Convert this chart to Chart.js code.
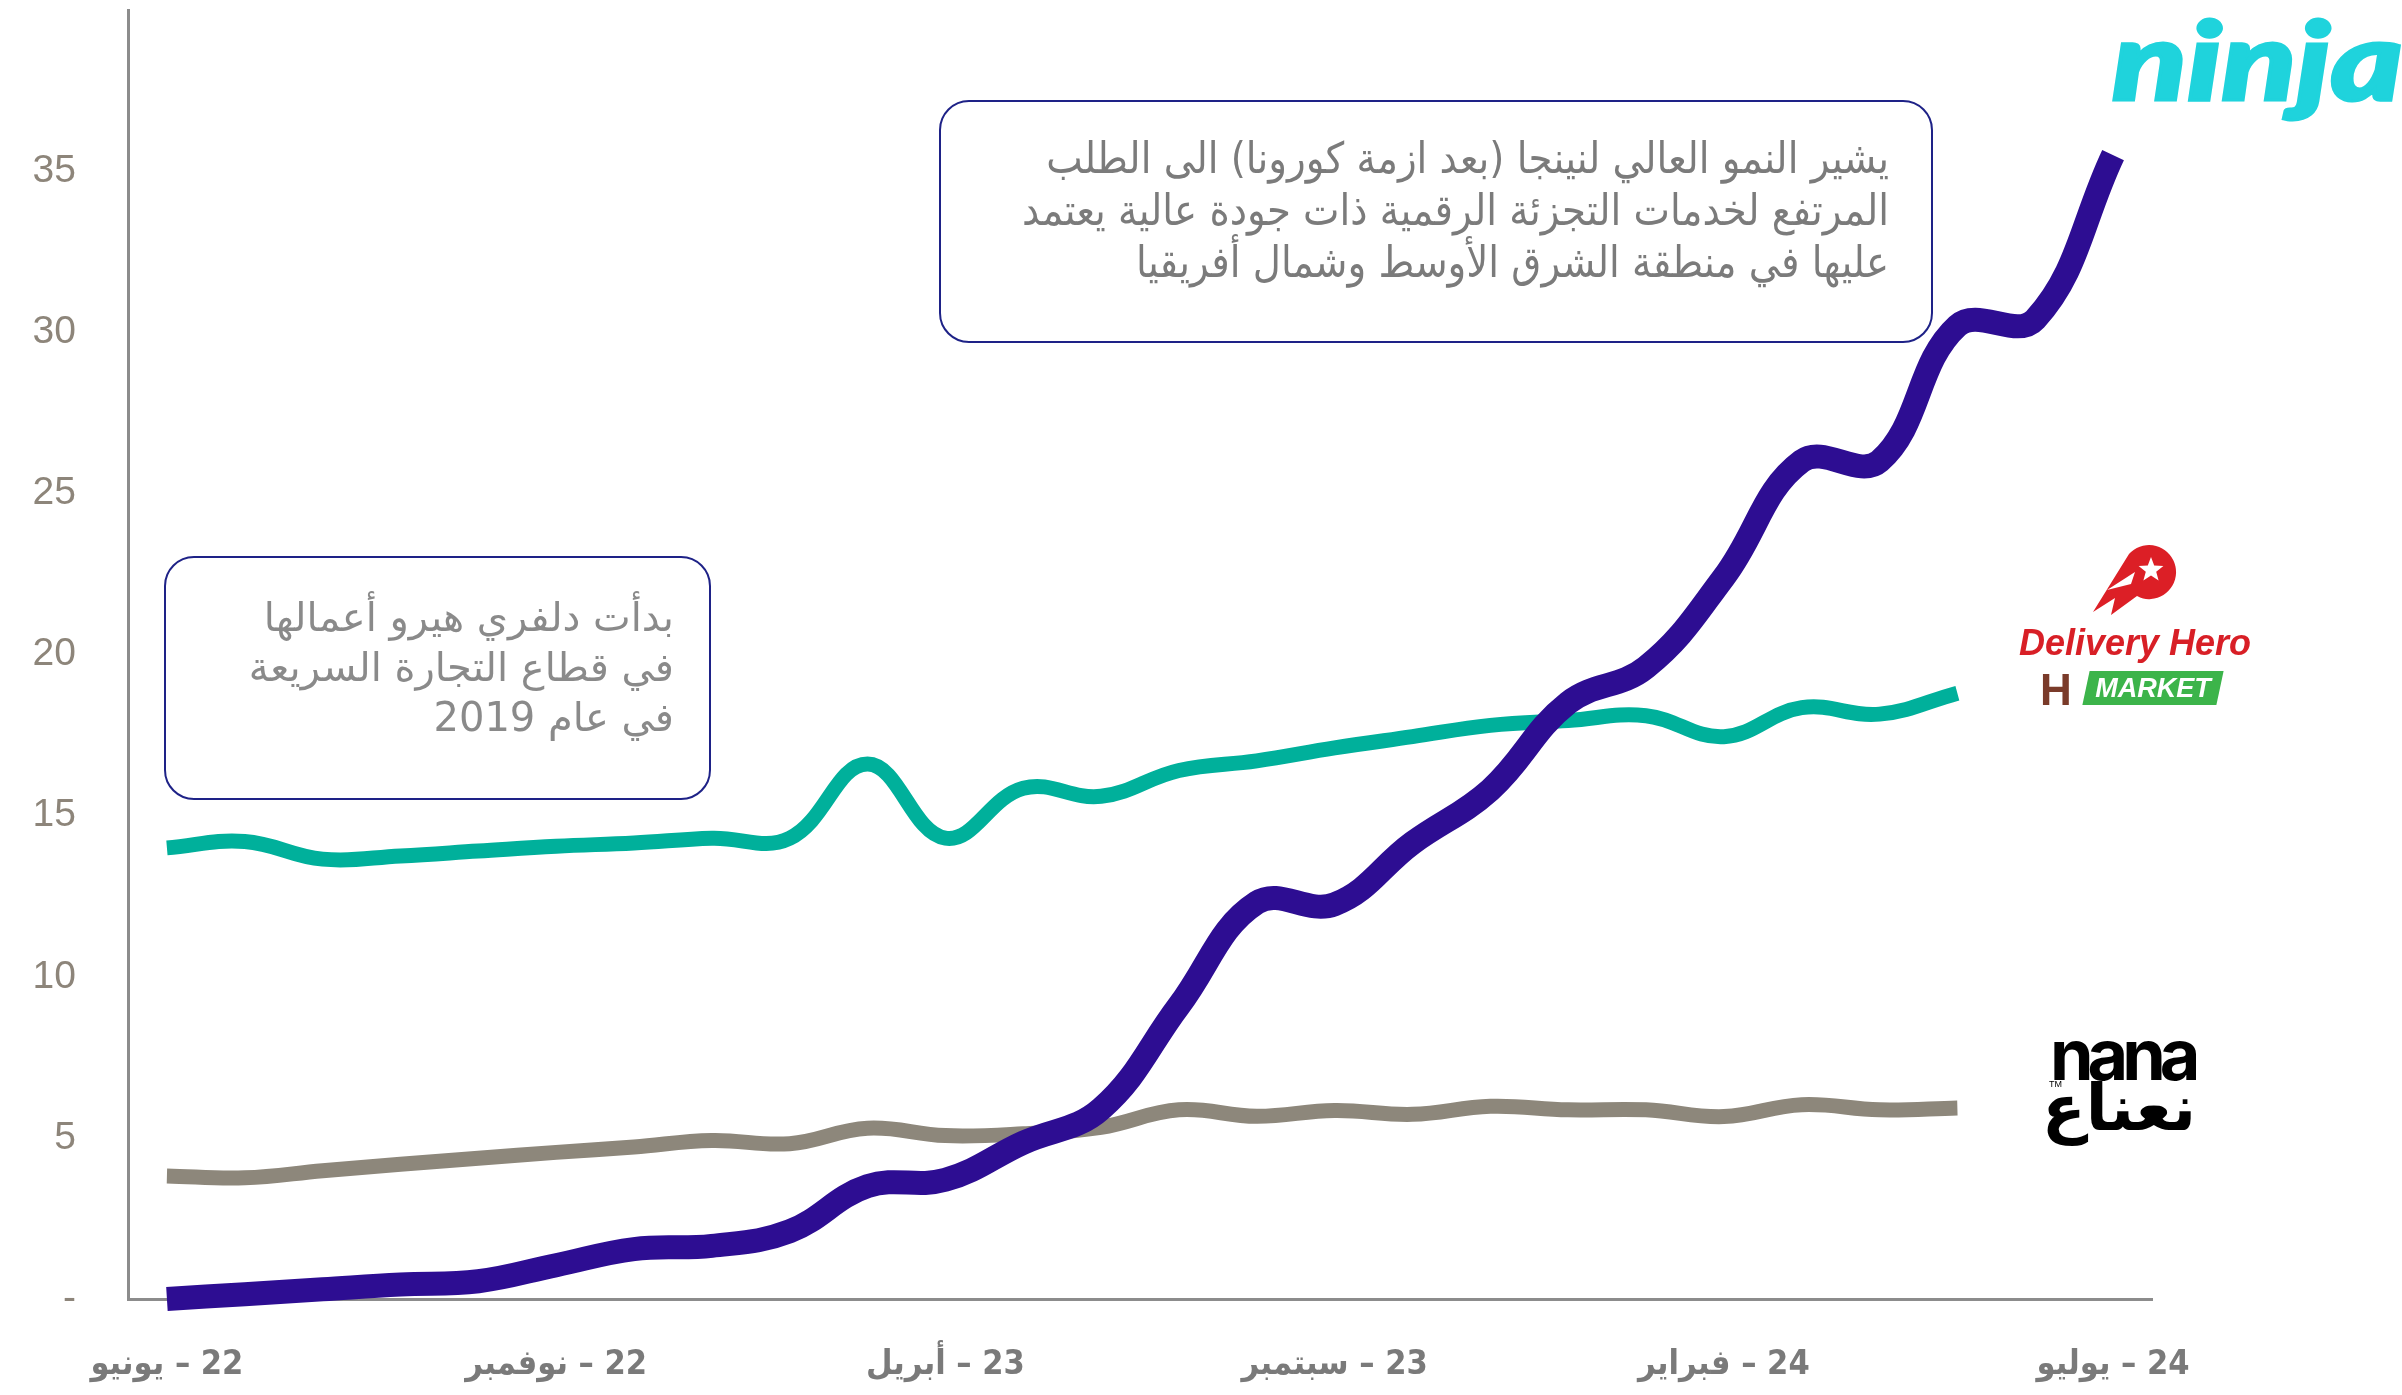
<!DOCTYPE html>
<html>
<head>
<meta charset="utf-8">
<script src="https://cdn.jsdelivr.net/npm/chart.js@4.4.1/dist/chart.umd.min.js"></script>
<style>
html,body{margin:0;padding:0;background:#fff;}
#wrap{position:relative;width:2402px;height:1395px;overflow:hidden;background:#fff;}
#c{position:absolute;left:0;top:0;}
.box{position:absolute;border:2.5px solid #1e2287;border-radius:30px;box-sizing:border-box;}
.note{position:absolute;direction:rtl;text-align:right;white-space:nowrap;}
.logo{position:absolute;white-space:nowrap;line-height:1;}
</style>
</head>
<body>
<div id="wrap">
<canvas id="c" width="2402" height="1395"></canvas>

<div class="box" style="left:164px;top:556px;width:547px;height:244px;"></div>
<div class="note" style="left:164px;width:510px;top:592px;font-family:'DejaVu Sans',sans-serif;font-size:40px;line-height:50px;color:#8a8a8a;">بدأت دلفري هيرو أعمالها<br>في قطاع التجارة السريعة<br>في عام 2019</div>

<div class="box" style="left:939px;top:100px;width:994px;height:243px;"></div>
<div class="note" style="left:939px;width:950px;top:132px;font-family:'DejaVu Sans Condensed','DejaVu Sans',sans-serif;font-size:43px;line-height:52px;color:#7b7b7b;">يشير النمو العالي لنينجا (بعد ازمة كورونا) الى الطلب<br>المرتفع لخدمات التجزئة الرقمية ذات جودة عالية يعتمد<br>عليها في منطقة الشرق الأوسط وشمال أفريقيا</div>

<!-- ninja logo -->
<div class="logo" style="left:2112px;top:4px;font-family:Lato,sans-serif;font-weight:900;font-style:italic;font-size:108px;color:#1fd3dc;transform:scaleX(1.27);transform-origin:left top;-webkit-text-stroke:3px #1fd3dc;">ninja</div>

<!-- Delivery Hero HMARKET logo -->
<svg style="position:absolute;left:2085px;top:540px;" width="100" height="78" viewBox="0 0 100 78">
  <path d="M44 14 L8 72 L30 58 L26 75 L52 56 Q60 60 66 59 A27 27 0 1 0 44 14 Z" fill="#dc1f26"/>
  <path d="M66 17 L69.2 25.5 L78.4 26 L71.2 31.7 L73.6 40.5 L66 35.5 L58.4 40.5 L60.8 31.7 L53.6 26 L62.8 25.5 Z" fill="#fff"/>
  <path d="M22 50 L50 32 L46 44 Z" fill="#fff"/>
</svg>
<div class="logo" style="left:2005px;top:625px;width:260px;text-align:center;font-family:'Liberation Sans',sans-serif;font-weight:bold;font-style:italic;font-size:36px;color:#d81f26;">Delivery Hero</div>
<div class="logo" style="left:2040px;top:668px;font-family:'Liberation Sans',sans-serif;font-weight:bold;font-size:44px;color:#7a3b2a;">H</div>
<div style="position:absolute;left:2086px;top:671px;width:134px;height:34px;background:#3cb44a;transform:skewX(-12deg);"></div>
<div class="logo" style="left:2086px;top:675px;width:134px;text-align:center;font-family:'Liberation Sans',sans-serif;font-weight:bold;font-style:italic;font-size:27px;color:#fff;">MARKET</div>

<!-- nana logo -->
<div class="logo" style="left:2050px;top:1020px;font-family:Inter,sans-serif;font-weight:700;font-size:70px;letter-spacing:-6px;color:#000;">nana</div>
<div class="logo" style="left:2049px;top:1080px;font-family:'Liberation Sans',sans-serif;font-size:9px;color:#000;">TM</div>
<div class="logo" style="left:2050px;top:1076px;width:146px;text-align:center;direction:rtl;font-family:'DejaVu Sans',sans-serif;font-weight:bold;font-size:64px;color:#000;">نعناع</div>
</div>

<script>
// ---- data ----
const monthNames = ['يونيو','يوليو','أغسطس','سبتمبر','أكتوبر','نوفمبر','ديسمبر','يناير','فبراير','مارس','أبريل','مايو',
                    'يونيو','يوليو','أغسطس','سبتمبر','أكتوبر','نوفمبر','ديسمبر','يناير','فبراير','مارس','أبريل','مايو',
                    'يونيو','يوليو'];
const yearSuffix = ['22','22','22','22','22','22','22','23','23','23','23','23',
                    '23','23','23','23','23','23','23','24','24','24','24','24',
                    '24','24'];
const tickEvery = 5;

const ninja = [0, 0.15, 0.3, 0.45, 0.55, 1.05, 1.55, 1.65, 2.1, 3.5, 3.7, 4.85, 5.9, 9.1, 12.3, 12.25, 14.15, 15.8, 18.5, 19.6, 22.4, 26.0, 26.0, 30.2, 30.4, 35.5];
const deliveryHero = [14.0, 14.2, 13.65, 13.75, 13.9, 14.05, 14.15, 14.3, 14.3, 16.6, 14.3, 15.85, 15.6, 16.4, 16.7, 17.1, 17.45, 17.8, 17.95, 18.1, 17.45, 18.35, 18.15, 18.8];
const nana = [3.82, 3.76, 3.98, 4.18, 4.37, 4.55, 4.72, 4.92, 4.82, 5.3, 5.07, 5.13, 5.33, 5.87, 5.67, 5.85, 5.73, 5.98, 5.87, 5.87, 5.66, 6.03, 5.87, 5.93];

const yMin = 0, yMax = 40, yStep = 5;
const zeroLabel = '-';

// ---- chart ----
const categories = monthNames.map((m, i) => m + '\u200E \u2013 ' + yearSuffix[i]);

new Chart(document.getElementById('c').getContext('2d'), {
  type: 'line',
  data: {
    labels: categories,
    datasets: [
      { label: 'ninja', data: ninja, borderColor: '#2d0d92', borderWidth: 24 },
      { label: 'Delivery Hero HMARKET', data: deliveryHero, borderColor: '#00b09b', borderWidth: 15 },
      { label: 'nana', data: nana, borderColor: '#8d877b', borderWidth: 15 }
    ]
  },
  options: {
    responsive: false,
    devicePixelRatio: 1,
    animation: false,
    layout: { autoPadding: false, padding: { left: 0, right: 250, top: 10, bottom: 0 } },
    plugins: { legend: { display: false }, tooltip: { enabled: false } },
    elements: {
      point: { radius: 0, hoverRadius: 0 },
      line: { tension: 0.4, borderCapStyle: 'butt', borderJoinStyle: 'round', fill: false }
    },
    datasets: { line: { clip: false } },
    scales: {
      x: {
        type: 'category',
        offset: true,
        grid: { display: false, drawTicks: false },
        border: { display: true, color: '#8c8c8c', width: 3 },
        ticks: {
          autoSkip: false, maxRotation: 0, minRotation: 0, padding: 46,
          color: '#7a7a7a',
          font: { family: "'DejaVu Sans Condensed','DejaVu Sans',sans-serif", size: 34, weight: 'bold' },
          callback: function (v, i) { return i % tickEvery === 0 ? this.getLabelForValue(v) : null; }
        },
        afterFit: function (s) { s.height = 96; s.paddingLeft = 0; s.paddingRight = 0; }
      },
      y: {
        min: yMin, max: yMax,
        grid: { display: false, drawTicks: false },
        border: { display: true, color: '#8c8c8c', width: 3 },
        ticks: {
          stepSize: yStep, padding: 52,
          color: '#8d857a',
          font: { family: "'Liberation Sans',Arial,sans-serif", size: 39 },
          callback: function (v) { if (v === yMax) return null; return v === 0 ? zeroLabel : String(v); }
        },
        afterFit: function (s) { s.width = 128; s.paddingTop = 0; s.paddingBottom = 0; }
      }
    }
  }
});
</script>
</body>
</html>
